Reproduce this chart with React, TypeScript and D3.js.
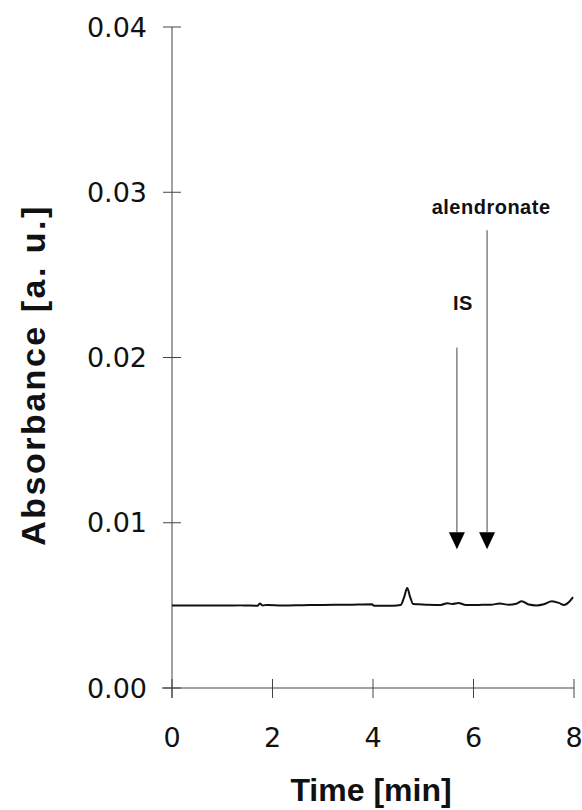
import React from 'react';
import * as d3 from 'd3';

// chromatogram trace: [time (min), absorbance (a.u.)]
const traceTime = [0, 0.5, 1.0, 1.4, 1.7, 1.75, 1.8, 1.9, 2.2, 2.6, 3.0, 3.5, 3.98, 4.02, 4.4, 4.55, 4.62, 4.68, 4.74, 4.8, 4.9, 5.1, 5.35, 5.48, 5.58, 5.7, 5.85, 6.1, 6.35, 6.52, 6.7, 6.85, 6.96, 7.1, 7.25, 7.4, 7.56, 7.7, 7.8, 7.9, 7.98];
const traceAbs = [0.00500, 0.00499, 0.00499, 0.00500, 0.00498, 0.00512, 0.00500, 0.00503, 0.00499, 0.00501, 0.00503, 0.00504, 0.00507, 0.00498, 0.00498, 0.00502, 0.00550, 0.00605, 0.00550, 0.00508, 0.00507, 0.00504, 0.00503, 0.00513, 0.00508, 0.00514, 0.00502, 0.00503, 0.00504, 0.00511, 0.00504, 0.00510, 0.00525, 0.00505, 0.00500, 0.00507, 0.00525, 0.00515, 0.00502, 0.00520, 0.00550];

const xTicks = [0, 2, 4, 6, 8];
const yTicks = [0, 0.01, 0.02, 0.03, 0.04];

// peak markers: label, time, arrow top, arrow tip, label position
const markerNames = ['IS', 'alendronate'];
const markerTime = [5.67, 6.27];
const markerTop = [0.0206, 0.0277];
const markerTip = [0.0084, 0.0084];
const markerLabelTime = [5.79, 6.35];
const markerLabelAbs = [0.0229, 0.0287];

export default function App() {
  const x = d3.scaleLinear().domain([0, 8]).range([172, 574]);
  const y = d3.scaleLinear().domain([0, 0.04]).range([688, 27]);

  const pts: [number, number][] = traceTime.map((t, i) => [t, traceAbs[i]]);
  const line = d3.line<[number, number]>()
    .x(d => x(d[0]))
    .y(d => y(d[1]))
    .curve(d3.curveMonotoneX);

  const axisColor = '#444';
  const headW = 8, headH = 17;

  return (
    <svg width={582} height={810} style={{ position: 'absolute', left: 0, top: 0, background: '#fff' }}>
      {/* y axis */}
      <line x1={x(0)} x2={x(0)} y1={y(0.04)} y2={y(0) + 10} stroke={axisColor} strokeWidth={1} />
      {yTicks.map(v => (
        <g key={v}>
          <line x1={x(0) - 9} x2={x(0) + 9} y1={y(v)} y2={y(v)} stroke={axisColor} strokeWidth={1} />
          <text x={x(0) - 25} y={y(v)} dy="0.36em" textAnchor="end"
            fontFamily="DejaVu Sans" fontSize={27} fill="#111">{d3.format('.2f')(v)}</text>
        </g>
      ))}
      {/* x axis */}
      <line x1={x(0) - 10} x2={x(8)} y1={y(0)} y2={y(0)} stroke={axisColor} strokeWidth={1} />
      {xTicks.map(v => (
        <g key={v}>
          <line x1={x(v)} x2={x(v)} y1={y(0) - 9} y2={y(0) + 10} stroke={axisColor} strokeWidth={1} />
          <text x={x(v)} y={747} textAnchor="middle"
            fontFamily="DejaVu Sans" fontSize={27} fill="#111">{v}</text>
        </g>
      ))}

      {/* axis titles */}
      <text x={371} y={801} textAnchor="middle" fontFamily="Liberation Sans" fontWeight="bold" fontSize={32} fill="#111">Time [min]</text>
      <text transform={`translate(45, 375) rotate(-90)`} textAnchor="middle" letterSpacing={2.5}
        fontFamily="Liberation Sans" fontWeight="bold" fontSize={34} fill="#111">Absorbance [a. u.]</text>

      {/* trace */}
      <path d={line(pts) || ''} fill="none" stroke="#111" strokeWidth={2} strokeLinejoin="round" />

      {/* markers */}
      {markerNames.map((name, i) => {
        const mx = x(markerTime[i]);
        const tip = y(markerTip[i]);
        return (
          <g key={name}>
            <line x1={mx} x2={mx} y1={y(markerTop[i])} y2={tip - headH} stroke="#444" strokeWidth={1} />
            <path d={`M${mx - headW},${tip - headH}L${mx + headW},${tip - headH}L${mx},${tip}Z`} fill="#000" />
            <text x={x(markerLabelTime[i])} y={y(markerLabelAbs[i])} textAnchor="middle"
              fontFamily="Liberation Sans" fontWeight="bold" fontSize={20} letterSpacing={0.5} fill="#111">{name}</text>
          </g>
        );
      })}
    </svg>
  );
}
